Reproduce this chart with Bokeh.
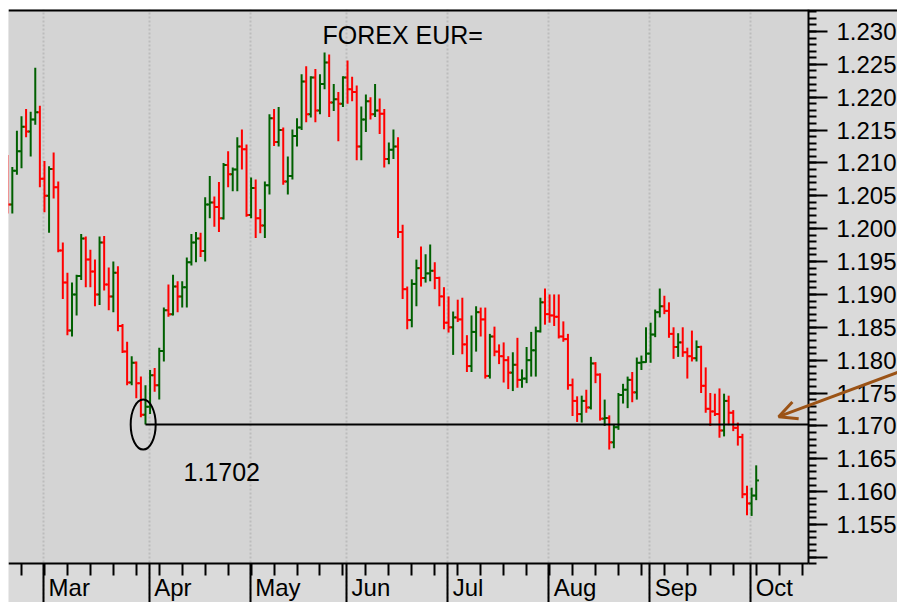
import numpy as np
import pandas as pd
from bokeh.plotting import figure
from bokeh.models import (ColumnDataSource, Range1d, FixedTicker, NumeralTickFormatter,
                          Label, Arrow, OpenHead, Span, BoxAnnotation)
from bokeh.embed import file_html
from bokeh.resources import INLINE

# ---------------- data (EUR= daily OHLC) ----------------
start_date = "2021-02-17"
end_date = "2021-10-04"
axis_end_date = "2021-10-29"
title_text = "FOREX EUR="
level_text = "1.1702"
month_labels = ["Mar", "Apr", "May", "Jun", "Jul", "Aug", "Sep", "Oct"]
y_ticks = [1.150, 1.155, 1.160, 1.165, 1.170, 1.175, 1.180, 1.185, 1.190,
           1.195, 1.200, 1.205, 1.210, 1.215, 1.220, 1.225, 1.230]

open_ = [
    # Feb
    1.2100, 1.2037, 1.2088, 1.2118, 1.2155, 1.2148, 1.2166, 1.2177,
    # Mar
    1.2076, 1.2050, 1.2091, 1.2063, 1.1967, 1.1918, 1.1845, 1.1900, 1.1928, 1.1985,
    1.1953, 1.1935, 1.1900, 1.1979, 1.1915, 1.1897, 1.1933, 1.1852, 1.1813, 1.1766,
    1.1796, 1.1765, 1.1717,
    # Apr
    1.1729, 1.1777, 1.1762, 1.1814, 1.1876, 1.1870, 1.1912, 1.1897, 1.1911, 1.1949,
    1.1979, 1.1985, 1.1966, 1.2037, 1.2040, 1.2033, 1.2016, 1.2097, 1.2083, 1.2090,
    1.2125, 1.2121,
    # May
    1.2021, 1.2062, 1.2016, 1.2005, 1.2066, 1.2168, 1.2132, 1.2150, 1.2072, 1.2080,
    1.2141, 1.2154, 1.2224, 1.2174, 1.2230, 1.2180, 1.2220, 1.2253, 1.2192, 1.2197,
    1.2190,
    # Jun
    1.2230, 1.2212, 1.2208, 1.2125, 1.2166, 1.2194, 1.2174, 1.2180, 1.2175, 1.2106,
    1.2120, 1.2125, 1.1995, 1.1908, 1.1861, 1.1916, 1.1940, 1.1925, 1.1932, 1.1936,
    1.1925, 1.1897,
    # Jul
    1.1857, 1.1850, 1.1865, 1.1862, 1.1824, 1.1791, 1.1843, 1.1873, 1.1862, 1.1776,
    1.1836, 1.1813, 1.1806, 1.1800, 1.1781, 1.1793, 1.1770, 1.1772, 1.1800, 1.1815,
    1.1844, 1.1888,
    # Aug
    1.1870, 1.1868, 1.1866, 1.1836, 1.1832, 1.1762, 1.1738, 1.1718, 1.1738, 1.1728,
    1.1795, 1.1778, 1.1711, 1.1712, 1.1675, 1.1698, 1.1747, 1.1755, 1.1770, 1.1751,
    1.1796, 1.1797,
    # Sep
    1.1810, 1.1839, 1.1873, 1.1882, 1.1875, 1.1840, 1.1820, 1.1827, 1.1812, 1.1806,
    1.1803, 1.1820, 1.1761, 1.1726, 1.1722, 1.1718, 1.1693, 1.1738, 1.1720, 1.1697,
    1.1683, 1.1596,
    # Oct
    1.1582, 1.1594,
]
high = [
    1.2112, 1.2094, 1.2149, 1.2171, 1.2182, 1.2178, 1.2245, 1.2187,
    1.2103, 1.2095, 1.2116, 1.2072, 1.1979, 1.1933, 1.1918, 1.1930, 1.1992, 1.1988,
    1.1968, 1.1953, 1.1988, 1.1989, 1.1941, 1.1950, 1.1943, 1.1855, 1.1828, 1.1806,
    1.1798, 1.1775, 1.1762,
    1.1785, 1.1788, 1.1819, 1.1880, 1.1915, 1.1930, 1.1920, 1.1920, 1.1956, 1.1992,
    1.1995, 1.1994, 1.2048, 1.2080, 1.2049, 1.2071, 1.2100, 1.2118, 1.2093, 1.2139,
    1.2151, 1.2128,
    1.2078, 1.2075, 1.2030, 1.2072, 1.2174, 1.2182, 1.2185, 1.2154, 1.2110, 1.2151,
    1.2168, 1.2235, 1.2247, 1.2232, 1.2243, 1.2235, 1.2268, 1.2265, 1.2220, 1.2208,
    1.2232,
    1.2256, 1.2231, 1.2218, 1.2186, 1.2204, 1.2200, 1.2220, 1.2198, 1.2182, 1.2131,
    1.2151, 1.2139, 1.2006, 1.1912, 1.1923, 1.1953, 1.1973, 1.1961, 1.1976, 1.1949,
    1.1927, 1.1911,
    1.1897, 1.1874, 1.1892, 1.1895, 1.1838, 1.1868, 1.1882, 1.1880, 1.1880, 1.1840,
    1.1851, 1.1824, 1.1827, 1.1806, 1.1812, 1.1834, 1.1786, 1.1820, 1.1843, 1.1851,
    1.1895, 1.1909,
    1.1900, 1.1900, 1.1900, 1.1859, 1.1840, 1.1772, 1.1745, 1.1746, 1.1755, 1.1805,
    1.1797, 1.1780, 1.1740, 1.1716, 1.1703, 1.1750, 1.1764, 1.1775, 1.1782, 1.1804,
    1.1807, 1.1850,
    1.1857, 1.1877, 1.1909, 1.1898, 1.1888, 1.1850, 1.1841, 1.1850, 1.1819, 1.1845,
    1.1830, 1.1822, 1.1789, 1.1750, 1.1749, 1.1757, 1.1749, 1.1746, 1.1724, 1.1705,
    1.1688, 1.1609,
    1.1606, 1.1640,
]
low = [
    1.2023, 1.2023, 1.2082, 1.2092, 1.2139, 1.2110, 1.2158, 1.2063,
    1.2025, 1.1994, 1.2046, 1.1964, 1.1893, 1.1838, 1.1836, 1.1868, 1.1922, 1.1911,
    1.1911, 1.1882, 1.1884, 1.1906, 1.1876, 1.1873, 1.1844, 1.1811, 1.1762, 1.1762,
    1.1742, 1.1713, 1.1702,
    1.1718, 1.1752, 1.1740, 1.1798, 1.1866, 1.1868, 1.1873, 1.1880, 1.1880, 1.1944,
    1.1949, 1.1957, 1.1950, 1.2016, 1.2003, 1.1995, 1.2014, 1.2063, 1.2057, 1.2057,
    1.2090, 1.2018,
    1.2016, 1.1986, 1.1993, 1.1986, 1.2052, 1.2126, 1.2125, 1.2067, 1.2052, 1.2075,
    1.2125, 1.2150, 1.2162, 1.2169, 1.2162, 1.2174, 1.2212, 1.2170, 1.2179, 1.2133,
    1.2185,
    1.2190, 1.2194, 1.2104, 1.2104, 1.2147, 1.2166, 1.2170, 1.2144, 1.2093, 1.2098,
    1.2106, 1.1986, 1.1893, 1.1847, 1.1850, 1.1882, 1.1912, 1.1918, 1.1920, 1.1908,
    1.1882, 1.1847,
    1.1842, 1.1808, 1.1858, 1.1809, 1.1782, 1.1782, 1.1813, 1.1836, 1.1772, 1.1772,
    1.1806, 1.1794, 1.1766, 1.1756, 1.1753, 1.1758, 1.1758, 1.1765, 1.1775, 1.1775,
    1.1842, 1.1854,
    1.1857, 1.1852, 1.1833, 1.1828, 1.1755, 1.1715, 1.1706, 1.1705, 1.1720, 1.1725,
    1.1765, 1.1708, 1.1700, 1.1664, 1.1666, 1.1694, 1.1734, 1.1727, 1.1736, 1.1740,
    1.1785, 1.1796,
    1.1796, 1.1835, 1.1865, 1.1870, 1.1834, 1.1802, 1.1805, 1.1805, 1.1772, 1.1798,
    1.1798, 1.1750, 1.1720, 1.1700, 1.1715, 1.1682, 1.1684, 1.1701, 1.1692, 1.1670,
    1.1590, 1.1564,
    1.1563, 1.1587,
]
close = [
    1.2037, 1.2088, 1.2118, 1.2155, 1.2148, 1.2166, 1.2177, 1.2076,
    1.2050, 1.2091, 1.2063, 1.1967, 1.1918, 1.1845, 1.1900, 1.1928, 1.1985, 1.1953,
    1.1935, 1.1900, 1.1979, 1.1915, 1.1897, 1.1933, 1.1852, 1.1813, 1.1766, 1.1796,
    1.1765, 1.1717, 1.1729,
    1.1777, 1.1762, 1.1814, 1.1876, 1.1870, 1.1912, 1.1897, 1.1911, 1.1949, 1.1979,
    1.1985, 1.1966, 1.2037, 1.2040, 1.2033, 1.2016, 1.2097, 1.2083, 1.2090, 1.2125,
    1.2121, 1.2021,
    1.2062, 1.2016, 1.2005, 1.2066, 1.2168, 1.2132, 1.2150, 1.2072, 1.2080, 1.2141,
    1.2154, 1.2224, 1.2174, 1.2230, 1.2180, 1.2220, 1.2253, 1.2192, 1.2197, 1.2190,
    1.2230,
    1.2212, 1.2208, 1.2125, 1.2166, 1.2194, 1.2174, 1.2180, 1.2175, 1.2106, 1.2120,
    1.2125, 1.1995, 1.1908, 1.1861, 1.1916, 1.1940, 1.1925, 1.1932, 1.1936, 1.1925,
    1.1897, 1.1857,
    1.1850, 1.1865, 1.1862, 1.1824, 1.1791, 1.1843, 1.1873, 1.1862, 1.1776, 1.1836,
    1.1813, 1.1806, 1.1800, 1.1781, 1.1793, 1.1770, 1.1772, 1.1800, 1.1815, 1.1844,
    1.1888, 1.1870,
    1.1868, 1.1866, 1.1836, 1.1832, 1.1762, 1.1738, 1.1718, 1.1738, 1.1728, 1.1795,
    1.1778, 1.1711, 1.1712, 1.1675, 1.1698, 1.1747, 1.1755, 1.1770, 1.1751, 1.1796,
    1.1797, 1.1810,
    1.1839, 1.1873, 1.1882, 1.1875, 1.1840, 1.1820, 1.1827, 1.1812, 1.1806, 1.1803,
    1.1820, 1.1761, 1.1726, 1.1722, 1.1718, 1.1693, 1.1738, 1.1720, 1.1697, 1.1683,
    1.1596, 1.1582,
    1.1594, 1.1617,
]

# ---------------- layout / styles ----------------
FONT = "Liberation Sans"
GREEN = "#006000"
RED = "#ff0000"
BROWN = "#9b5316"
PLOT_BG = "#d4d4d4"
AXIS_BG = "#dadada"

dates = pd.bdate_range(start_date, end_date)
cal = pd.bdate_range(start_date, axis_end_date)
x = np.arange(len(dates), dtype=float)

X0, XA, XE = 0.169, 174.39, 193.77        # left edge, price-axis position, canvas edge
YB, YA, Y1 = 1.14313, 1.14906, 1.23335    # canvas bottom, time-axis position, top

month_pos, month_txt = [], []
cal_abbr = [d.strftime("%b") for d in cal]
for lbl in month_labels:
    i = cal_abbr.index(lbl)
    month_pos.append(i - 0.2)
    month_txt.append(lbl)
mondays = [float(i) for i, d in enumerate(cal) if d.dayofweek == 0 and X0 <= i <= XA]
y_minor = [round(1.149 + 0.001 * k, 3) for k in range(85)]

colors = [GREEN if c >= o else RED for o, c in zip(open_, close)]
src = ColumnDataSource(dict(x=x, xl=x - 0.6, xr=x + 0.6, o=open_, h=high, l=low,
                            c=close, color=colors))

p = figure(width=897, height=602,
           x_range=Range1d(X0, XE), y_range=Range1d(YB, Y1),
           y_axis_location="right", x_axis_location="below",
           output_backend="svg", toolbar_location=None,
           min_border_left=8, min_border_right=0, min_border_top=9, min_border_bottom=0,
           background_fill_color=AXIS_BG, border_fill_color="white",
           outline_line_color=None)

# chart area background
p.add_layout(BoxAnnotation(left=X0, right=XA, bottom=YA, top=Y1, fill_color=PLOT_BG,
                           fill_alpha=1, line_color=None, level="image"))

# x axis: month lines (major) and weekly ticks (minor)
xa = p.xaxis[0]
xa.fixed_location = YA
xa.bounds = (X0, XA)
xa.ticker = FixedTicker(ticks=month_pos, minor_ticks=mondays)
xa.major_label_overrides = {t: "" for t in month_pos}
xa.major_label_text_font_size = "0px"
xa.major_label_standoff = 0
xa.major_tick_out = 39
xa.major_tick_in = 0
xa.minor_tick_out = 12
xa.minor_tick_in = 0
xa.axis_line_width = 2
xa.major_tick_line_width = 2
xa.minor_tick_line_width = 2
xa.axis_line_color = "black"

# price axis
ya = p.yaxis[0]
ya.fixed_location = XA
ya.bounds = (YA, Y1)
ya.ticker = FixedTicker(ticks=y_ticks, minor_ticks=y_minor)
ya.formatter = NumeralTickFormatter(format="0.000")
ya.major_label_overrides = {y_ticks[0]: ""}
ya.major_tick_out = 19
ya.major_tick_in = 0
ya.minor_tick_out = 8
ya.minor_tick_in = 0
ya.axis_line_width = 2
ya.major_tick_line_width = 2
ya.minor_tick_line_width = 2
ya.major_label_standoff = 9
ya.major_label_text_font = FONT
ya.major_label_text_font_size = "24px"
ya.major_label_text_color = "black"

p.ygrid.visible = False
p.xgrid.ticker = FixedTicker(ticks=month_pos)
p.xgrid.grid_line_color = "#bcbcbc"
p.xgrid.grid_line_width = 2
p.xgrid.grid_line_dash = "2 2"

# OHLC bars
p.segment(x0="x", y0="l", x1="x", y1="h", line_color="color", line_width=2, source=src)
p.segment(x0="xl", y0="o", x1="x", y1="o", line_color="color", line_width=2, source=src)
p.segment(x0="x", y0="c", x1="xr", y1="c", line_color="color", line_width=2, source=src)

# support level from the March low
lo_idx = int(np.argmin(low[:60]))
level = low[lo_idx]
p.segment(x0=[x[lo_idx]], y0=[level], x1=[XA], y1=[level], line_color="black", line_width=2)
p.ellipse(x=[x[lo_idx] - 0.5], y=[level], width=25, height=50,
          width_units="screen", height_units="screen",
          fill_color=None, line_color="black", line_width=2)

# top border line
p.add_layout(Span(location=Y1 - 0.00012, dimension="width", line_color="black", line_width=2.5))

# brown arrow pointing at the level
p.add_layout(Arrow(end=OpenHead(size=18, line_color=BROWN, line_width=3),
                   x_start=XE + 1, y_start=level + 0.0082,
                   x_end=XA - 6.5, y_end=level + 0.0012,
                   line_color=BROWN, line_width=3))

# texts
p.add_layout(Label(x=x[lo_idx], y=level, x_offset=38, y_offset=-47, text=level_text,
                   text_font=FONT, text_font_size="25px", text_baseline="alphabetic",
                   text_color="black"))
p.add_layout(Label(x=X0, y=Y1, x_offset=314, y_offset=-25, text=title_text,
                   text_font=FONT, text_font_size="25px", text_baseline="alphabetic",
                   text_color="black"))
for pos, lbl in zip(month_pos, month_txt):
    p.add_layout(Label(x=pos, y=YA, x_offset=5, y_offset=-24, text=lbl,
                       text_font=FONT, text_font_size="24px", text_baseline="alphabetic",
                       text_color="black"))

open("out.html", "w").write(file_html(p, INLINE))
